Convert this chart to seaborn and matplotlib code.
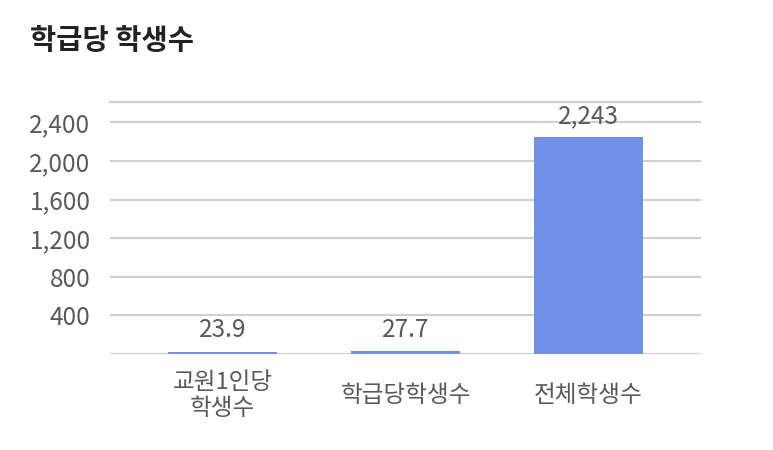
import matplotlib
matplotlib.use("Agg")
import matplotlib.pyplot as plt
import seaborn as sns

categories = ["교원1인당\n학생수", "학급당학생수", "전체학생수"]
values = [23.9, 27.7, 2243]
value_labels = ["23.9", "27.7", "2,243"]
y_ticks = [0, 400, 800, 1200, 1600, 2000, 2400]
y_tick_labels = ["", "400", "800", "1,200", "1,600", "2,000", "2,400"]

sns.set_style("white")
plt.rcParams["font.family"] = ["Noto Sans CJK KR", "DejaVu Sans"]

text_color = "#595959"
grid_color = "#d0d0d0"
bar_color = "#7191e9"

fig = plt.figure(figsize=(7.73, 4.5), dpi=100)
ax = fig.add_axes([0.1423, 0.2133, 0.7646, 0.5607])

sns.barplot(x=categories, y=values, color=bar_color, width=0.6, ax=ax,
            saturation=1, zorder=3, linewidth=0)

ax.set_ylim(0, 2613)
ax.set_xlim(-0.615, 2.615)
ax.set_yticks(y_ticks)
ax.set_yticklabels(y_tick_labels)
ax.yaxis.grid(True, color=grid_color, linewidth=1.5, zorder=0)
ax.set_axisbelow(True)

for side in ["left", "right", "bottom"]:
    ax.spines[side].set_visible(False)
ax.spines["top"].set_color(grid_color)
ax.spines["top"].set_linewidth(1.5)

ax.tick_params(axis="y", length=0, pad=14, labelsize=17.5, labelcolor=text_color)
ax.tick_params(axis="x", length=0, pad=30, labelsize=17, labelcolor=text_color)
for lbl in ax.get_xticklabels():
    lbl.set_verticalalignment("center")
    lbl.set_linespacing(1.15)

ax.bar_label(ax.containers[0], labels=value_labels, padding=6,
             fontsize=17.5, color=text_color)

ax.set_xlabel("")
ax.set_ylabel("")
fig.text(30 / 773, 1 - 41 / 450, "학급당 학생수", fontsize=20.5, fontweight="bold",
         color="#222222", va="center", ha="left")

fig.savefig("out.png", dpi=100)
